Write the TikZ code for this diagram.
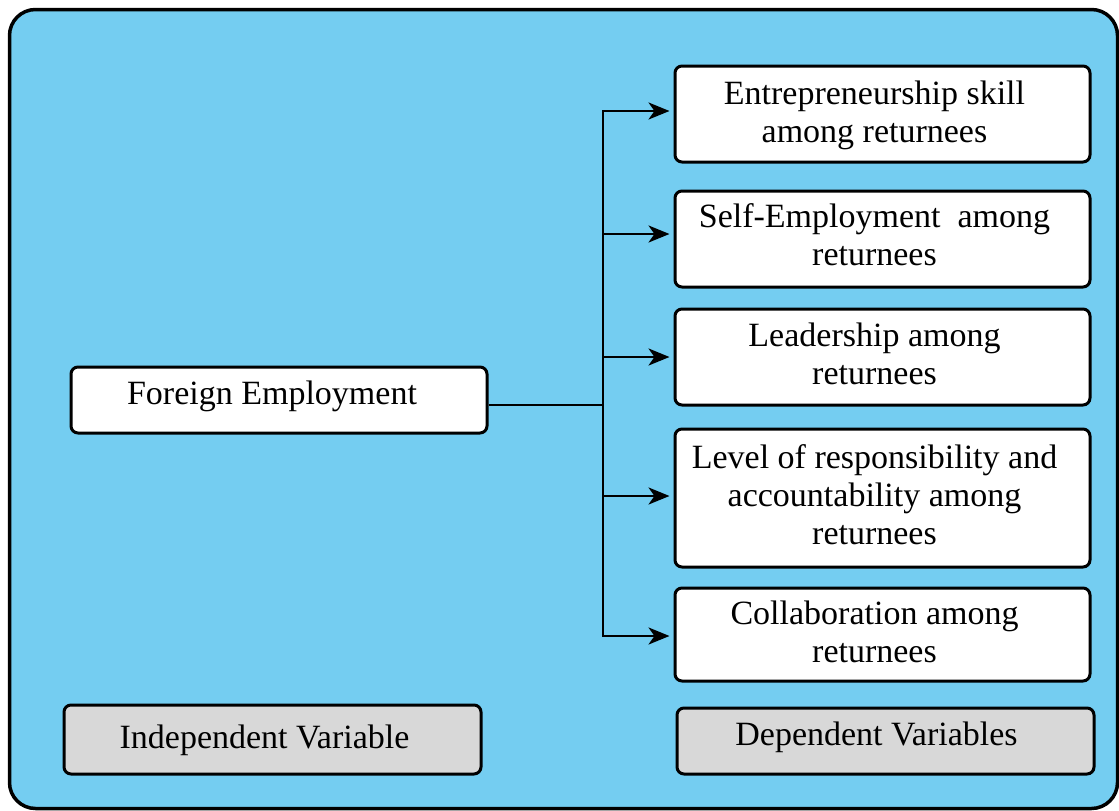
\documentclass[tikz,border=0pt]{standalone}
\usepackage{fontspec}
\setmainfont{Liberation Serif}
\usetikzlibrary{arrows.meta}
\definecolor{panelblue}{RGB}{116,205,241}
\definecolor{keygrey}{RGB}{216,216,216}

\begin{document}
\begin{tikzpicture}[x=1pt,y=-1pt,
  box/.style={draw=black, line width=3pt, fill=white, rounded corners=7pt, inner sep=0pt},
  keybox/.style={box, fill=keygrey},
  txt/.style={font=\fontsize{34}{38}\selectfont, align=center, inner sep=0pt},
  link/.style={line width=2.6pt},
  arr/.style={link, -{Stealth[length=21pt,width=17pt,inset=6pt]}, shorten >=4pt}]
\useasboundingbox (0,0) rectangle (1119,811);

% background panel
\draw[line width=3.5pt, fill=panelblue, rounded corners=26pt] (9.5,9.5) rectangle (1117.5,808.5);

% independent variable
\node[box, minimum width=416pt, minimum height=66pt] (fe) at (279,400) {};
\node[txt] (fet) at ([shift={(-7pt,4pt)}]fe.center) {Foreign Employment};

% dependent variables
\node[box, minimum width=415pt, minimum height=96pt] (e1) at (882.5,114) {};
\node[txt] (e1t) at ([shift={(-8pt,-1pt)}]e1.center) {Entrepreneurship skill\\among returnees};

\node[box, minimum width=415pt, minimum height=96pt] (e2) at (882.5,239) {};
\node[txt] (e2t) at ([shift={(-8pt,4pt)}]e2.center) {Self-Employment~ among\\returnees};

\node[box, minimum width=415pt, minimum height=96pt] (e3) at (882.5,357) {};
\node[txt] (e3t) at ([shift={(-8pt,3pt)}]e3.center) {Leadership among\\returnees};

\node[box, minimum width=415pt, minimum height=138pt] (e4) at (882.5,498) {};
\node[txt] (e4t) at ([shift={(-8pt,3pt)}]e4.center) {Level of responsibility and\\accountability among\\returnees};

\node[box, minimum width=415pt, minimum height=93pt] (e5) at (882.5,634.5) {};
\node[txt] (e5t) at ([shift={(-8pt,3pt)}]e5.center) {Collaboration among\\returnees};

% legend boxes
\node[keybox, minimum width=417pt, minimum height=69pt] (iv) at (272.5,739.5) {};
\node[txt] (ivt) at ([shift={(-8pt,-1pt)}]iv.center) {Independent Variable};

\node[keybox, minimum width=417pt, minimum height=66pt] (dv) at (885.5,741) {};
\node[txt] (dvt) at ([shift={(-9pt,4pt)}]dv.center) {Dependent Variables};

% connectors
\coordinate (hub) at (603,405);
\coordinate (j1) at (603,111);
\coordinate (j2) at (603,234);
\coordinate (j3) at (603,357);
\coordinate (j4) at (603,496);
\coordinate (j5) at (603,636);

\draw[link] (fe.east |- hub) -- (hub);
\draw[link, line cap=rect] (j1) -- (j5);
\draw[arr] (j1) -- (j1 -| e1.west);
\draw[arr] (j2) -- (j2 -| e2.west);
\draw[arr] (j3) -- (j3 -| e3.west);
\draw[arr] (j4) -- (j4 -| e4.west);
\draw[arr] (j5) -- (j5 -| e5.west);
\end{tikzpicture}
\end{document}
